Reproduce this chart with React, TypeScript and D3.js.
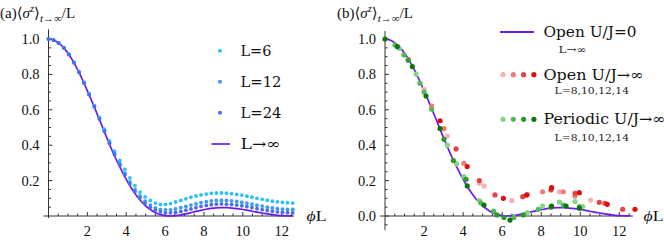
import React from 'react';
import * as d3 from 'd3';

// ---------- DATA ----------
// phi*L grid used in panel (a) and for the L->inf curve
const phiGrid = [0, 0.26, 0.52, 0.79, 1.05, 1.31, 1.57, 1.83, 2.09, 2.36, 2.62, 2.88, 3.14, 3.4, 3.67, 3.93, 4.19, 4.45, 4.71, 4.97, 5.24, 5.5, 5.76, 6.02, 6.28, 6.54, 6.81, 7.07, 7.33, 7.59, 7.85, 8.12, 8.38, 8.64, 8.9, 9.16, 9.42, 9.69, 9.95, 10.21, 10.47, 10.73, 11.0, 11.26, 11.52, 11.78, 12.04, 12.3, 12.57];

const lInf = [1.0, 0.994, 0.977, 0.95, 0.912, 0.865, 0.811, 0.75, 0.684, 0.615, 0.545, 0.474, 0.405, 0.339, 0.278, 0.221, 0.171, 0.127, 0.09, 0.06, 0.037, 0.019, 0.008, 0.002, 0.0, 0.002, 0.006, 0.012, 0.019, 0.026, 0.032, 0.038, 0.043, 0.046, 0.047, 0.047, 0.045, 0.042, 0.038, 0.033, 0.027, 0.022, 0.017, 0.012, 0.008, 0.004, 0.002, 0.001, 0.0];

const l6 = [1.0, 0.994, 0.977, 0.951, 0.914, 0.868, 0.815, 0.755, 0.691, 0.624, 0.557, 0.49, 0.425, 0.367, 0.314, 0.263, 0.215, 0.172, 0.135, 0.108, 0.088, 0.073, 0.066, 0.066, 0.07, 0.079, 0.088, 0.097, 0.106, 0.113, 0.119, 0.124, 0.128, 0.13, 0.13, 0.129, 0.126, 0.122, 0.118, 0.112, 0.106, 0.1, 0.094, 0.089, 0.084, 0.08, 0.077, 0.075, 0.073];

const l12 = [1.0, 0.994, 0.977, 0.95, 0.913, 0.867, 0.813, 0.752, 0.687, 0.62, 0.551, 0.482, 0.415, 0.353, 0.296, 0.242, 0.193, 0.15, 0.113, 0.084, 0.062, 0.046, 0.037, 0.034, 0.035, 0.04, 0.047, 0.054, 0.062, 0.069, 0.076, 0.081, 0.085, 0.088, 0.089, 0.088, 0.086, 0.082, 0.078, 0.072, 0.067, 0.061, 0.056, 0.05, 0.046, 0.042, 0.039, 0.037, 0.037];

const l24 = [1.0, 0.994, 0.977, 0.95, 0.912, 0.866, 0.812, 0.751, 0.686, 0.617, 0.548, 0.478, 0.41, 0.346, 0.287, 0.232, 0.182, 0.138, 0.101, 0.072, 0.049, 0.033, 0.023, 0.018, 0.018, 0.021, 0.026, 0.033, 0.04, 0.047, 0.054, 0.06, 0.064, 0.067, 0.068, 0.067, 0.065, 0.062, 0.058, 0.053, 0.047, 0.041, 0.036, 0.031, 0.027, 0.023, 0.021, 0.019, 0.018];

// panel (b): [phiL, value]
const openL8 = [[2.0, 0.716], [3.19, 0.452], [4.83, 0.185], [5.07, 0.17], [6.49, 0.087], [8.93, 0.137], [10.53, 0.09]];
const openL10 = [[1.19, 0.885], [2.39, 0.621], [3.02, 0.494], [4.04, 0.298], [7.29, 0.122], [8.07, 0.137], [9.13, 0.137], [9.73, 0.113]];
const openL12 = [[3.64, 0.379], [4.83, 0.2], [5.63, 0.119], [7.05, 0.109], [8.5, 0.147], [9.73, 0.128], [10.97, 0.077], [11.26, 0.072], [12.17, 0.038]];
const openL14 = [[2.82, 0.538], [4.21, 0.279], [6.06, 0.1], [7.25, 0.118], [8.53, 0.16], [9.95, 0.132], [11.38, 0.066], [12.8, 0.038]];

const perL8 = [[0.73, 0.947], [1.59, 0.802], [3.19, 0.4], [3.67, 0.294], [4.04, 0.222], [4.83, 0.087], [7.29, 0.019], [8.07, 0.056], [8.93, 0.078], [9.73, 0.082], [10.12, 0.053]];
const perL10 = [[0.51, 0.966], [0.97, 0.91], [1.79, 0.75], [2.0, 0.7], [2.39, 0.603], [4.9, 0.075], [5.56, 0.028], [6.6, -0.008], [7.85, 0.038], [9.13, 0.062], [9.95, 0.053]];
const perL12 = [[1.19, 0.88], [3.02, 0.433], [3.5, 0.313], [4.15, 0.207], [5.73, 0.006], [6.09, -0.008], [7.08, 0.006], [8.5, 0.05]];
const perL14 = [[0.0, 1.0], [0.63, 0.957], [1.4, 0.844], [2.1, 0.678], [2.82, 0.494], [4.21, 0.17], [5.07, 0.062], [6.4, -0.023], [8.53, 0.056], [9.27, 0.056], [9.95, 0.044]];

const xTickValues = [2, 4, 6, 8, 10, 12];
const yTickValuesA = [0.2, 0.4, 0.6, 0.8, 1.0];
const yTickValuesB = [0.0, 0.2, 0.4, 0.6, 0.8, 1.0];
const legendA = ['L=6', 'L=12', 'L=24', 'L→∞'];
const legendB = ['Open U/J=0', 'Open U/J→∞', 'Periodic U/J→∞'];
const legendBSub = ['L→∞', 'L=8,10,12,14', 'L=8,10,12,14'];

// ---------- STYLE ----------
const FONT = "'Liberation Serif', 'DejaVu Serif', serif";
const LFONT = "'DejaVu Serif', 'Liberation Serif', serif";
const PURPLE = '#6b1cf2';
const COLORS_A = ['#2bc2f5', '#3d9af2', '#4a6cf0'];
const REDS = ['#f8b0b0', '#f07a7a', '#e24444', '#e00d0d'];
const GREENS = ['#86d486', '#55b855', '#2c9a2c', '#0c760c'];
const AXIS = '#333';

type Cfg = {
  x: d3.ScaleLinear<number, number>;
  y: d3.ScaleLinear<number, number>;
  xAxisFrom: number; xAxisTo: number;
  yAxisFrom: number; yAxisTo: number;
  yTicks: number[];
  yMinorFrom: number;
};

function Axes({ c, labelX }: { c: Cfg; labelX: number }) {
  const { x, y } = c;
  const x0 = x(0);
  const y0 = y(0);
  const minorX = d3.range(0.5, 12.6, 0.5).filter((v) => Math.abs(v / 2 - Math.round(v / 2)) > 1e-6);
  const minorY = d3.range(c.yMinorFrom, 1.001, 0.05).filter((v) => Math.abs(v / 0.2 - Math.round(v / 0.2)) > 1e-6);
  return (
    <g>
      <line x1={c.xAxisFrom} x2={c.xAxisTo} y1={y0} y2={y0} stroke={AXIS} strokeWidth={1} />
      <line x1={x0} x2={x0} y1={c.yAxisFrom} y2={c.yAxisTo} stroke={AXIS} strokeWidth={1} />
      {xTickValues.map((v) => (
        <g key={'xt' + v}>
          <line x1={x(v)} x2={x(v)} y1={y0} y2={y0 - 4} stroke={AXIS} />
          <text x={x(v)} y={y0 + 20} textAnchor="middle" fontSize={14.5} fontFamily={FONT} fill="#111">{v}</text>
        </g>
      ))}
      {minorX.map((v) => (
        <line key={'xm' + v} x1={x(v)} x2={x(v)} y1={y0} y2={y0 - 2.5} stroke={AXIS} />
      ))}
      {c.yTicks.map((v) => (
        <g key={'yt' + v}>
          <line x1={x0} x2={x0 + 4} y1={y(v)} y2={y(v)} stroke={AXIS} />
          <text x={x0 - 9} y={y(v) + 5} textAnchor="end" fontSize={14.5} fontFamily={FONT} fill="#111">{v.toFixed(1)}</text>
        </g>
      ))}
      {minorY.map((v) => (
        <line key={'ym' + v} x1={x0} x2={x0 + 2.5} y1={y(v)} y2={y(v)} stroke={AXIS} />
      ))}
      <text x={labelX} y={y0 + 5} fontSize={15.5} fontFamily={FONT} fill="#111" textLength={20} lengthAdjust="spacingAndGlyphs">
        <tspan fontStyle="italic">ϕ</tspan>L
      </text>
    </g>
  );
}

function Title({ x, tag }: { x: number; tag: string }) {
  return (
    <text x={x} y={18} fontSize={15} fontFamily={FONT} fill="#111">
      ({tag})⟨<tspan fontStyle="italic">σ</tspan>
      <tspan dy={-6.5} fontSize={10.5} fontStyle="italic">z</tspan>
      <tspan dy={6.5}>⟩</tspan>
      <tspan dy={4} fontSize={11}><tspan fontStyle="italic">t</tspan>→∞</tspan>
      <tspan dy={-4}>/L</tspan>
    </text>
  );
}

export default function App() {
  const yA = d3.scaleLinear().domain([0, 1]).range([216, 39]);
  const xA = d3.scaleLinear().domain([0, 12.566]).range([48.5, 48.5 + 19.43 * 12.566]);
  const xB = d3.scaleLinear().domain([0, 12.566]).range([385, 385 + 19.53 * 12.566]);
  const yB = yA;

  const cfgA: Cfg = { x: xA, y: yA, xAxisFrom: 43.5, xAxisTo: 294, yAxisFrom: 218, yAxisTo: yA(1.055), yTicks: yTickValuesA, yMinorFrom: 0.05 };
  const cfgB: Cfg = { x: xB, y: yB, xAxisFrom: 380, xAxisTo: 633, yAxisFrom: yB(-0.08), yAxisTo: yB(1.045), yTicks: yTickValuesB, yMinorFrom: -0.05 };

  const lineA = d3.line<number>().x((_, i) => xA(phiGrid[i])).y((d) => yA(d)).curve(d3.curveMonotoneX);
  const lineB = d3.line<number>().x((_, i) => xB(phiGrid[i])).y((d) => yB(d)).curve(d3.curveMonotoneX);

  const seriesA = [l6, l12, l24];
  const openSeries = [openL8, openL10, openL12, openL14];
  const perSeries = [perL8, perL10, perL12, perL14];

  const legendAY = [50.7, 81.7, 112.7, 144];
  const legendAW = [31, 41, 41, 40];

  return (
    <svg width={664} height={245} style={{ position: 'absolute', left: 0, top: 0, background: '#fff' }}>
      <rect width={664} height={245} fill="#fff" />
      {/* Panel (a) */}
      <Title x={0} tag="a" />
      <Axes c={cfgA} labelX={306.5} />
      <path d={lineA(lInf) || ''} fill="none" stroke={PURPLE} strokeWidth={1.7} />
      {seriesA.map((s, si) => (
        <g key={'sa' + si}>
          {s.map((v, i) => (
            <circle key={i} cx={xA(phiGrid[i])} cy={yA(v)} r={1.9} fill={COLORS_A[si]} />
          ))}
        </g>
      ))}
      {/* legend (a) */}
      {COLORS_A.map((c, i) => (
        <circle key={'la' + i} cx={220} cy={legendAY[i]} r={2} fill={c} />
      ))}
      <line x1={211.5} x2={230} y1={legendAY[3]} y2={legendAY[3]} stroke={PURPLE} strokeWidth={1.7} />
      {legendA.map((t, i) => (
        <text key={'lta' + i} x={240.5} y={legendAY[i] + 5} fontSize={14.5} fontFamily={LFONT} fill="#111" textLength={legendAW[i]} lengthAdjust="spacingAndGlyphs">{t}</text>
      ))}

      {/* Panel (b) */}
      <Title x={337} tag="b" />
      <Axes c={cfgB} labelX={643.5} />
      <path d={lineB(lInf) || ''} fill="none" stroke={PURPLE} strokeWidth={1.7} />
      {openSeries.map((s, si) => (
        <g key={'ob' + si}>
          {s.map((p, i) => (
            <circle key={i} cx={xB(p[0])} cy={yB(p[1])} r={2.6} fill={REDS[si]} />
          ))}
        </g>
      ))}
      {perSeries.map((s, si) => (
        <g key={'pb' + si}>
          {s.map((p, i) => (
            <circle key={i} cx={xB(p[0])} cy={yB(p[1])} r={2.6} fill={GREENS[si]} />
          ))}
        </g>
      ))}
      {/* legend (b) */}
      <line x1={500} x2={534} y1={32} y2={32} stroke={PURPLE} strokeWidth={1.8} />
      {REDS.map((c, i) => (
        <circle key={'lr' + i} cx={503 + i * 10.3} cy={74.7} r={2.6} fill={c} />
      ))}
      {GREENS.map((c, i) => (
        <circle key={'lg' + i} cx={503 + i * 10.3} cy={119.3} r={2.6} fill={c} />
      ))}
      <text x={543.5} y={37} fontSize={14.5} fontFamily={LFONT} fill="#111" textLength={93} lengthAdjust="spacingAndGlyphs">{legendB[0]}</text>
      <text x={558.5} y={53} fontSize={9.5} fontFamily={LFONT} fill="#222" textLength={28} lengthAdjust="spacingAndGlyphs">{legendBSub[0]}</text>
      <text x={543.5} y={79.7} fontSize={14.5} fontFamily={LFONT} fill="#111" textLength={100} lengthAdjust="spacingAndGlyphs">{legendB[1]}</text>
      <text x={554.5} y={94} fontSize={9.5} fontFamily={LFONT} fill="#222" textLength={74.5} lengthAdjust="spacingAndGlyphs">{legendBSub[1]}</text>
      <text x={543.5} y={124.3} fontSize={14.5} fontFamily={LFONT} fill="#111" textLength={122} lengthAdjust="spacingAndGlyphs">{legendB[2]}</text>
      <text x={554.5} y={141.3} fontSize={9.5} fontFamily={LFONT} fill="#222" textLength={74.5} lengthAdjust="spacingAndGlyphs">{legendBSub[2]}</text>
    </svg>
  );
}
